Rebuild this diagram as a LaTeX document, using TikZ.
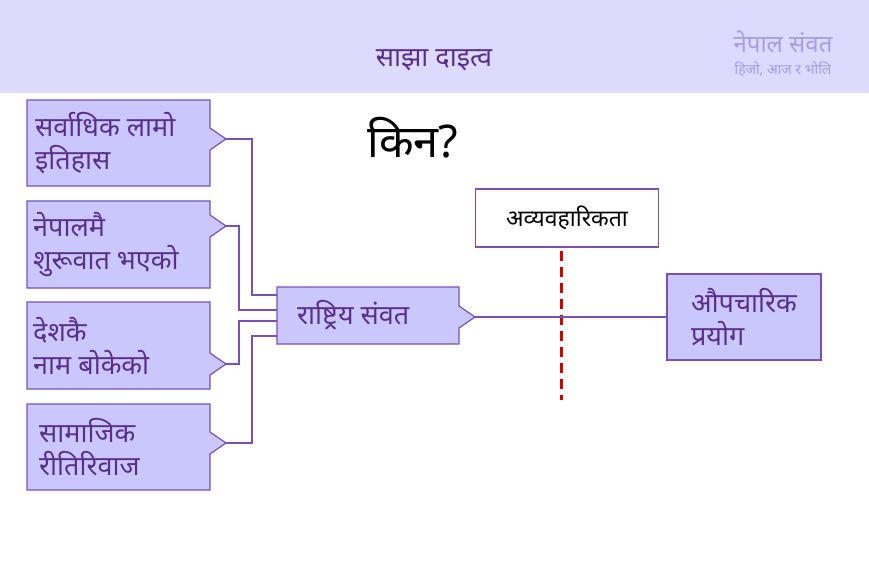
\documentclass[tikz,border=0pt]{standalone}
\usepackage{fontspec}
\newfontfamily\deva[Script=Devanagari]{Noto Sans}
\usetikzlibrary{positioning}
\definecolor{boxfill}{HTML}{C9C7FC}
\definecolor{boxline}{HTML}{7A50B8}
\definecolor{band}{HTML}{DCDAFD}
\definecolor{txt}{HTML}{5A2E8E}
\definecolor{light}{HTML}{A59BE6}
\tikzset{
  tab/.style={draw=boxline, fill=boxfill, line width=1.2pt},
  lbl/.style={font=\deva\fontsize{27}{33}\selectfont, text=txt, align=left, anchor=west, inner sep=0pt},
  link/.style={draw=boxline, line width=1.2pt}
}
% tab box with notch on the right: name, x1, y1, x2, y2, notch y
\newcommand{\tabbox}[6]{%
  \draw[tab] (#2,#3) -- (#4,#3) -- (#4,#6-11) -- (#4+16,#6) -- (#4,#6+11) -- (#4,#5) -- (#2,#5) -- cycle;
  \coordinate (#1) at (#4+16,#6);
  \coordinate (#1-w) at (#2,#3/2+#5/2);
}

\begin{document}
\begin{tikzpicture}[x=1pt, y=-1pt]
    \useasboundingbox (0,0) rectangle (869,579);
    % Header
    \fill[band] (0,0) rectangle (869,93);
    \node (title) at (434,60) [font=\deva\fontsize{27}{30}\selectfont, text=txt] {साझा दाइत्व};
    \node (brand) at (783,42) [font=\deva\fontsize{24}{28}\selectfont, text=light] {नेपाल संवत};
    \node (motto) at (783,69) [font=\deva\fontsize{14}{17}\selectfont, text=light] {हिजो, आज र भोलि};
    \node (why) at (413,138) [font=\deva\fontsize{45}{50}\selectfont] {किन?};

    % Left boxes
    \tabbox{r1}{27}{100}{210}{186}{139}
    \tabbox{r2}{27}{201}{210}{288}{226}
    \tabbox{r3}{27}{302}{210}{389}{364}
    \tabbox{r4}{27}{404}{210}{490}{443}
    \node (t1) [lbl] at ([xshift=8pt]r1-w) {सर्वाधिक लामो\\इतिहास};
    \node (t2) [lbl] at ([xshift=6pt]r2-w) {नेपालमै\\शुरूवात भएको};
    \node (t3) [lbl] at ([xshift=6pt]r3-w) {देशकै\\नाम बोकेको};
    \node (t4) [lbl] at ([xshift=12pt]r4-w) {सामाजिक\\रीतिरिवाज};

    % Middle box
    \tabbox{mid}{277}{287}{459}{344}{317}
    \node (tm) [lbl] at ([xshift=20pt]mid-w) {राष्ट्रिय संवत};

    % Right box
    \node (use) [draw=boxline, fill=boxfill, line width=1.2pt, minimum width=154pt, minimum height=86pt, font=\deva\fontsize{27}{33}\selectfont, text=txt, align=left] at (744,317) {औपचारिक\\प्रयोग};

    % Barrier
    \node (bar) [draw=boxline, fill=white, line width=1.2pt, minimum width=183pt, minimum height=58pt, font=\deva\fontsize{23}{26}\selectfont] at (567,218) {अव्यवहारिकता};
    \coordinate (cut) at (561,400);
    \draw[red!85!black, line width=3pt, dash pattern=on 10pt off 6pt] ([xshift=-6pt,yshift=-3pt]bar.south) -- (cut);

    % Connections
    \draw[link] (r1) -| (252,295) -- (277,295);
    \draw[link] (r2) -| (239,310) -- (277,310);
    \draw[link] (r3) -| (239,321) -- (277,321);
    \draw[link] (r4) -| (252,336) -- (277,336);
    \draw[link] (mid) -- (use.west);
\end{tikzpicture}
\end{document}
